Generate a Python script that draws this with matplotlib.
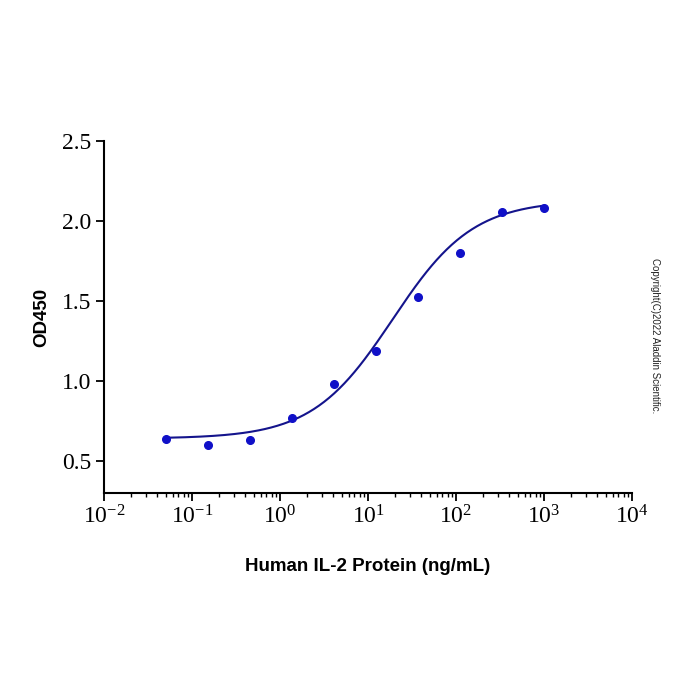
import numpy as np
import matplotlib
matplotlib.use("Agg")
import matplotlib.pyplot as plt
from matplotlib.ticker import LogLocator, FixedLocator

# Data
conc = [0.0508, 0.152, 0.457, 1.37, 4.12, 12.3, 37.0, 111.0, 333.0, 1000.0]
od450 = [0.637, 0.60, 0.63, 0.77, 0.98, 1.19, 1.525, 1.80, 2.056, 2.08]

# 4PL fit parameters (estimated from the drawn curve)
bottom = 0.64
top = 2.13
ec50 = 19.0
hill = 0.95

plt.rcParams["mathtext.fontset"] = "custom"
plt.rcParams["mathtext.rm"] = "Liberation Serif"
plt.rcParams["mathtext.default"] = "regular"

fig = plt.figure(figsize=(7, 7), dpi=100)
ax = fig.add_axes([0.1486, 0.2957, 0.7544, 0.5029])

xs = np.logspace(np.log10(conc[0]), np.log10(conc[-1]), 300)
ys = bottom + (top - bottom) / (1 + (ec50 / xs) ** hill)
ax.plot(xs, ys, color="#14148c", lw=1.5, zorder=2)
ax.plot(conc, od450, "o", color="#1010c8", ms=5.5, zorder=3)

ax.set_xscale("log")
ax.set_xlim(1e-2, 1e4)
ax.set_ylim(0.3, 2.5)
ax.set_yticks([0.5, 1.0, 1.5, 2.0, 2.5])
ax.set_yticklabels(["0.5", "1.0", "1.5", "2.0", "2.5"])
xexp = [-2, -1, 0, 1, 2, 3, 4]
ax.xaxis.set_major_locator(FixedLocator([10.0 ** e for e in xexp]))
ax.set_xticklabels([r"$10^{%d}$" % e for e in xexp])
ax.xaxis.set_minor_locator(LogLocator(base=10, subs=np.arange(2, 10), numticks=20))

for s in ["top", "right"]:
    ax.spines[s].set_visible(False)
for s in ["left", "bottom"]:
    ax.spines[s].set_linewidth(1.5)

ax.tick_params(axis="both", which="major", direction="out", length=6, width=1.3,
               labelsize=17, pad=3)
ax.tick_params(axis="x", which="minor", direction="out", length=3, width=1.0)
for lbl in ax.get_xticklabels() + ax.get_yticklabels():
    lbl.set_fontfamily("Liberation Serif")

ax.set_xlabel("Human IL-2 Protein (ng/mL)", fontsize=13.5, fontweight="bold",
              fontfamily="Liberation Sans")
ax.set_ylabel("OD450", fontsize=13.5, fontweight="bold",
              fontfamily="Liberation Sans")
ax.xaxis.set_label_coords(0.5, -0.185)
ax.yaxis.set_label_coords(-0.102, 0.5)

fig.text(0.936, 0.52, "Copyright(C)2022 Aladdin Scientific.", rotation=-90,
         fontsize=7.0, color="#222222", fontfamily="Liberation Sans",
         ha="center", va="center")

fig.savefig("out.png", dpi=100)
